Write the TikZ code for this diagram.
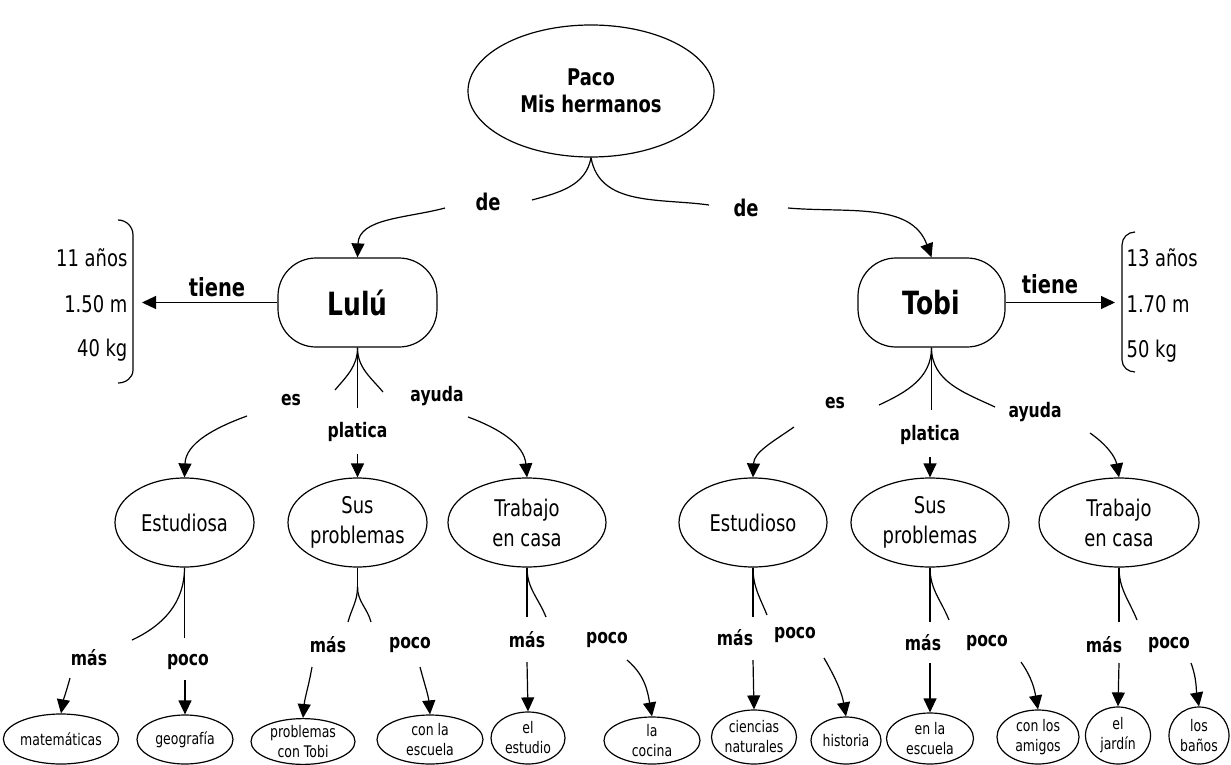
\documentclass[tikz,border=0pt]{standalone}
\usepackage{fontspec}
\setmainfont{DejaVu Sans}[FakeStretch=0.78]
\usetikzlibrary{shapes.geometric,arrows.meta}
\begin{document}
\begin{tikzpicture}[x=1pt,y=1pt,line width=1.2pt,
  arr/.style={-{Triangle[length=14pt,width=13pt]}},
  ell/.style={draw,ellipse,inner sep=0pt,align=center},
  midtxt/.style={font=\fontsize{23}{30}\selectfont},
  smalltxt/.style={font=\fontsize{16}{20}\selectfont},
  lblA/.style={inner sep=0pt,font=\bfseries\fontsize{20}{24}\selectfont},
  deS/.style={inner sep=0pt,font=\bfseries\fontsize{23}{26}\selectfont},
  tieneS/.style={inner sep=0pt,font=\bfseries\fontsize{25}{28}\selectfont},
  brtxt/.style={inner sep=0pt,font=\fontsize{23}{26}\selectfont},
  person/.style={draw,rounded corners=38pt,minimum height=89pt,inner sep=0pt,font=\bfseries\fontsize{32}{36}\selectfont}]
\useasboundingbox (0,0) rectangle (1231,-765);

% top
\node[ell,minimum width=246pt,minimum height=132pt,font=\bfseries\fontsize{23}{27}\selectfont] (paco) at (591,-91) {Paco\\Mis hermanos};
\node[person,minimum width=159pt] (lulu) at (357.5,-302.5) {Lulú};
\node[person,minimum width=147pt] (tobi) at (931.5,-302.5) {Tobi};

\node[deS] (de1) at (488,-202) {de};
\node[deS] (de2) at (746,-208) {de};
\coordinate (d1a) at (532,-200);
\coordinate (d1b) at (445,-208);
\coordinate (d2a) at (709,-205);
\coordinate (d2b) at (788,-208);
\draw (paco.south) to[out=-100,in=15] (d1a);
\draw[arr] (d1b) to[out=195,in=88] (lulu.north);
\draw (paco.south) to[out=-80,in=172] (d2a);
\draw[arr] (d2b) to[out=-5,in=110] (tobi.north);

% tiene
\node[tieneS] (ti1) at (217,-287) {tiene};
\node[tieneS] (ti2) at (1050,-284) {tiene};
\coordinate (ti1e) at (142,-302.5);
\coordinate (ti2e) at (1115,-302.5);
\draw[arr] (lulu.west) -- (ti1e);
\draw[arr] (tobi.east) -- (ti2e);

% brackets
\draw (118,-220) to[out=0,in=90] (133,-235) -- (133,-370) to[out=-90,in=0] (118,-383);
\draw (1135,-232) to[out=180,in=90] (1122,-245) -- (1122,-360) to[out=-90,in=180] (1135,-372);
\node[brtxt,anchor=east] (la1) at (128,-258) {11 años};
\node[brtxt,anchor=east] (la2) at (128,-304) {1.50 m};
\node[brtxt,anchor=east] (la3) at (128,-350) {40 kg};
\node[brtxt,anchor=west] (ta1) at (1126,-258) {13 años};
\node[brtxt,anchor=west] (ta2) at (1126,-304) {1.70 m};
\node[brtxt,anchor=west] (ta3) at (1126,-351) {50 kg};

% middle ellipses
\node[ell,midtxt,minimum width=139pt,minimum height=89pt] (est1) at (184.5,-522.5) {Estudiosa};
\node[ell,midtxt,minimum width=139pt,minimum height=89pt] (sp1) at (357.5,-522.5) {Sus\\problemas};
\node[ell,midtxt,minimum width=158pt,minimum height=89pt] (tc1) at (527,-522.5) {Trabajo\\en casa};
\node[ell,midtxt,minimum width=148pt,minimum height=89pt] (est2) at (753,-522.5) {Estudioso};
\node[ell,midtxt,minimum width=158pt,minimum height=89pt] (sp2) at (930,-522.5) {Sus\\problemas};
\node[ell,midtxt,minimum width=160pt,minimum height=89pt] (tc2) at (1119,-522.5) {Trabajo\\en casa};

% Lulu tree
\coordinate (lb1) at (335,-390);
\coordinate (lb2) at (383,-392);
\coordinate (lb3) at (357.5,-408);
\draw (lulu.south) -- (lb3);
\draw (lulu.south) to[out=-90,in=50] (lb1);
\draw (lulu.south) to[out=-90,in=130] (lb2);
\node[lblA] (les) at (291,-400) {es};
\node[lblA] (lpl) at (357.5,-432) {platica};
\node[lblA] (lay) at (437,-396) {ayuda};
\coordinate (lesA) at (247,-416);
\coordinate (lplA) at (357.5,-454);
\coordinate (layA) at (468,-417);
\draw[arr] (lesA) to[out=200,in=88] (est1.north);
\draw[arr] (lplA) -- (sp1.north);
\draw[arr] (layA) to[out=-20,in=95] (tc1.north);

% Tobi tree
\coordinate (tb1) at (879,-405);
\coordinate (tb2) at (995,-407);
\coordinate (tb3) at (931.5,-410);
\draw (tobi.south) -- (tb3);
\draw (tobi.south) to[out=-90,in=25] (tb1);
\draw (tobi.south) to[out=-90,in=155] (tb2);
\node[lblA] (tes) at (835,-403) {es};
\node[lblA] (tpl) at (930,-435) {platica};
\node[lblA] (tay) at (1035,-412) {ayuda};
\coordinate (tesA) at (794,-427);
\coordinate (tplA) at (930,-457);
\coordinate (tayA) at (1090,-433);
\draw[arr] (tesA) to[out=215,in=88] (est2.north);
\draw[arr] (tplA) -- (sp2.north);
\draw[arr] (tayA) to[out=-35,in=100] (tc2.north);

% bottom ellipses
\node[ell,smalltxt,minimum width=102pt,minimum height=50pt] (mat) at (61,-739) {matemáticas};
\node[ell,smalltxt,minimum width=96pt,minimum height=49pt] (geo) at (185,-739.5) {geografía};
\node[ell,smalltxt,minimum width=104pt,minimum height=45pt] (pct) at (303,-741.5) {problemas\\con Tobi};
\node[ell,smalltxt,minimum width=106pt,minimum height=49pt] (cle) at (430,-739.5) {con la\\escuela};
\node[ell,smalltxt,minimum width=74pt,minimum height=52pt] (ee) at (528,-738) {el\\estudio};
\node[ell,smalltxt,minimum width=96pt,minimum height=47pt] (lc) at (652,-740.5) {la\\cocina};
\node[ell,smalltxt,minimum width=85pt,minimum height=54pt] (cn) at (754,-737) {ciencias\\naturales};
\node[ell,smalltxt,minimum width=70pt,minimum height=47pt] (hist) at (846,-740.5) {historia};
\node[ell,smalltxt,minimum width=87pt,minimum height=51pt] (ele) at (930,-738.5) {en la\\escuela};
\node[ell,smalltxt,minimum width=82pt,minimum height=54pt] (cla) at (1038,-737) {con los\\amigos};
\node[ell,smalltxt,minimum width=65pt,minimum height=57pt] (ej) at (1118,-735.5) {el\\jardín};
\node[ell,smalltxt,minimum width=60pt,minimum height=57pt] (lb) at (1199,-735.5) {los\\baños};

% Estudiosa tree
\coordinate (e1s) at (184.5,-638);
\coordinate (e1l) at (132,-640);
\draw (est1.south) -- (e1s);
\draw (est1.south) to[out=-90,in=25] (e1l);
\node[lblA] (m1) at (89,-658) {más};
\node[lblA] (p1) at (188,-662) {poco};
\coordinate (m1a) at (70,-678);
\coordinate (p1a) at (185,-680);
\draw[arr] (m1a) to[out=-105,in=80] (mat.north);
\draw[arr] (p1a) -- (geo.north);

% Sus problemas (Lulu) tree
\coordinate (s1j) at (357.5,-587);
\coordinate (s1l) at (348,-622);
\coordinate (s1r) at (371,-622);
\draw (sp1.south) -- (s1j);
\draw (s1j) to[out=-90,in=75] (s1l);
\draw (s1j) to[out=-90,in=105] (s1r);
\node[lblA] (m2) at (328,-645) {más};
\node[lblA] (p2) at (410,-645) {poco};
\coordinate (m2a) at (312,-667);
\coordinate (p2a) at (420,-667);
\draw[arr] (m2a) to[out=-100,in=85] (pct.north);
\draw[arr] (p2a) to[out=-75,in=95] (cle.north);

% Trabajo (Lulu) tree
\coordinate (t1s) at (527,-617);
\coordinate (t1r) at (546,-617);
\draw (tc1.south) -- (t1s);
\draw (tc1.south) to[out=-90,in=112] (t1r);
\node[lblA] (m3) at (527,-640) {más};
\node[lblA] (p3) at (607,-640) {poco};
\coordinate (m3a) at (527,-662);
\coordinate (p3a) at (627,-660);
\draw[arr] (m3a) -- (ee.north);
\draw[arr] (p3a) to[out=-40,in=100] (lc.north);

% Estudioso tree
\coordinate (e2s) at (753,-617);
\coordinate (e2r) at (767,-615);
\draw (est2.south) -- (e2s);
\draw (est2.south) to[out=-90,in=112] (e2r);
\node[lblA] (m4) at (735,-638) {más};
\node[lblA] (p4) at (795,-635) {poco};
\coordinate (m4a) at (753,-660);
\coordinate (p4a) at (824,-658);
\draw[arr] (m4a) -- (cn.north);
\draw[arr] (p4a) to[out=-60,in=100] (hist.north);

% Sus problemas (Tobi) tree
\coordinate (s2s) at (930,-622);
\coordinate (s2r) at (949,-620);
\draw (sp2.south) -- (s2s);
\draw (sp2.south) to[out=-90,in=112] (s2r);
\node[lblA] (m5) at (923,-643) {más};
\node[lblA] (p5) at (987,-643) {poco};
\coordinate (m5a) at (930,-663);
\coordinate (p5a) at (1021,-662);
\draw[arr] (m5a) -- (ele.north);
\draw[arr] (p5a) to[out=-55,in=100] (cla.north);

% Trabajo (Tobi) tree
\coordinate (t2s) at (1119,-622);
\coordinate (t2r) at (1137,-620);
\draw (tc2.south) -- (t2s);
\draw (tc2.south) to[out=-90,in=112] (t2r);
\node[lblA] (m6) at (1104,-645) {más};
\node[lblA] (p6) at (1169,-645) {poco};
\coordinate (m6a) at (1119,-663);
\coordinate (p6a) at (1191,-663);
\draw[arr] (m6a) -- (ej.north);
\draw[arr] (p6a) to[out=-70,in=100] (lb.north);
\end{tikzpicture}
\end{document}
